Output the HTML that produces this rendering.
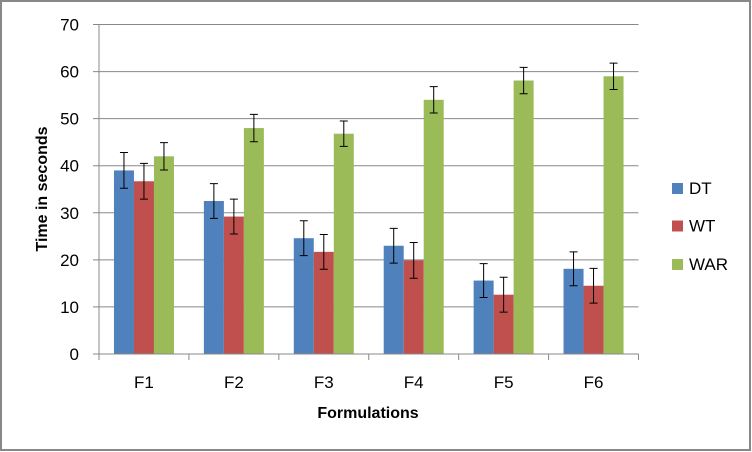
<!DOCTYPE html>
<html><head><meta charset="utf-8"><style>
html,body{margin:0;padding:0;background:#fff}
svg{display:block;font-family:"Liberation Sans",sans-serif}
</style></head><body>
<svg id="chart" width="752" height="452" viewBox="0 0 752 452">
<rect x="1" y="1" width="749" height="449" fill="#fff" stroke="#888" stroke-width="2"/>
<g id="grid"></g><g id="bars"></g><g id="axes"></g>
<text transform="translate(47,189) rotate(-90)" text-anchor="middle" font-size="16" font-weight="bold" fill="#000">Time in seconds</text>
<text x="368" y="418" text-anchor="middle" font-size="16" font-weight="bold" fill="#000">Formulations</text>
<g id="legend"></g>
</svg>
<script>
const categories=["F1","F2","F3","F4","F5","F6"];
const seriesNames=["DT","WT","WAR"];
const dtValues=[39,32.5,24.6,23,15.6,18.1];
const wtValues=[36.7,29.2,21.7,19.9,12.6,14.5];
const warValues=[42,48,46.8,54,58.1,59];
const dtErr=[3.8,3.7,3.7,3.7,3.6,3.6];
const wtErr=[3.8,3.7,3.7,3.8,3.7,3.7];
const warErr=[2.9,2.9,2.7,2.8,2.8,2.8];
const yTicks=[0,10,20,30,40,50,60,70];
const colors=["#4f81bd","#c0504d","#9bbb59"];
const NS="http://www.w3.org/2000/svg";
const x0=99,x1=638.5,yTop=24.5,yBot=354;
const bw=(x1-x0)/categories.length;
const y=v=>yBot-(v/70)*(yBot-yTop);
function mk(tag,attrs,parent){const e=document.createElementNS(NS,tag);for(const k in attrs)e.setAttribute(k,attrs[k]);parent.appendChild(e);return e;}
const grid=document.getElementById('grid'),axes=document.getElementById('axes'),bars=document.getElementById('bars'),leg=document.getElementById('legend');
yTicks.forEach(t=>{
  const l=mk('line',{x1:x0-6,x2:x1,y1:y(t),y2:y(t),stroke:'#888','stroke-width':1},grid);
  
  
  const tx=mk('text',{x:79,y:y(t)+6,'text-anchor':'end','font-size':17,fill:'#000'},axes);
  tx.textContent=t;
  
  
});
const ya=mk('line',{x1:x0,x2:x0,y1:yTop,y2:yBot,stroke:'#888','stroke-width':1},axes);


const xa=mk('line',{x1:x0,x2:x1,y1:yBot,y2:yBot,stroke:'#888','stroke-width':1},axes);


for(let i=0;i<=categories.length;i++){
  const tk=mk('line',{x1:x0+i*bw,x2:x0+i*bw,y1:yBot,y2:yBot+6,stroke:'#888','stroke-width':1},axes);
  
  
}
categories.forEach((c,i)=>{
  const tx=mk('text',{x:x0+(i+0.5)*bw,y:388,'text-anchor':'middle','font-size':17,fill:'#000'},axes);
  tx.textContent=c;
  
  
});
const vals=[dtValues,wtValues,warValues],errs=[dtErr,wtErr,warErr];
const barW=20;
categories.forEach((c,i)=>{
  const cx=x0+(i+0.5)*bw;
  vals.forEach((arr,s)=>{
    const bx=cx-1.5*barW+s*barW;
    const r=mk('rect',{x:bx,y:y(arr[i]),width:barW,height:yBot-y(arr[i]),fill:colors[s]},bars);
    
    
    const mx=bx+barW/2,t=y(arr[i]+errs[s][i]),b=y(arr[i]-errs[s][i]);
    const g=mk('path',{d:`M${mx},${t}V${b}M${mx-4},${t}H${mx+4}M${mx-4},${b}H${mx+4}`,stroke:'#000','stroke-width':1,fill:'none'},bars);
    
    
  });
});
const legY=[183,220.5,259];
seriesNames.forEach((n,s)=>{
  const r=mk('rect',{x:672,y:legY[s],width:11,height:11,fill:colors[s]},leg);
  
  
  const t=mk('text',{x:689,y:legY[s]+11,'font-size':17,fill:'#000'},leg);
  t.textContent=n;
  
  
});
</script>
</body></html>
